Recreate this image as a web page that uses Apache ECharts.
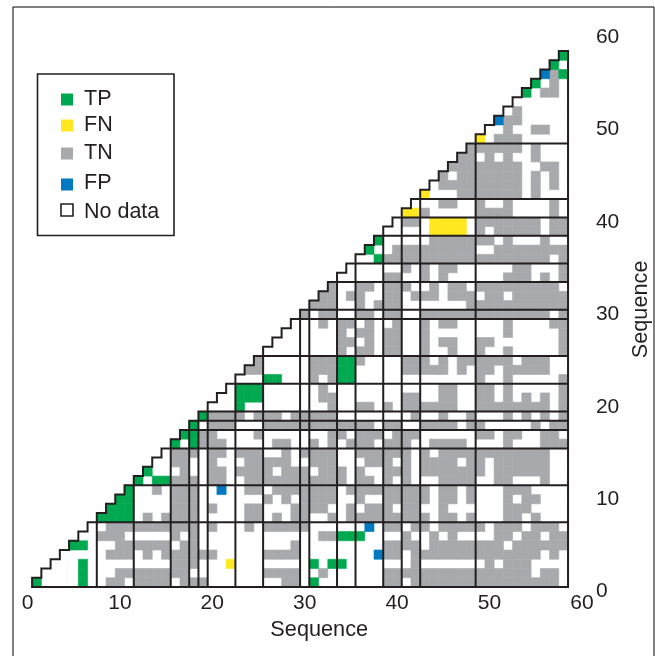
<!DOCTYPE html>
<html><head><meta charset="utf-8">
<style>html,body{margin:0;padding:0;background:#fff}#c{width:655px;height:656px}</style>
<script src="https://cdn.jsdelivr.net/npm/echarts@6/dist/echarts.min.js"></script>
</head><body><div id="c"></div>
<script>
// TN (grey) column spans for each row 1..58, bottom to top
const tnRows = [
"9-10 12-15 17-19 28-29 39-40 42-57",
"10-17 26-29 32 39-54 56-57",
"16-18 42 50 52-54",
"9-11 13 15-20 26-29 39-40 42-55 57",
"10-15 17-18 29 39-42 44-51 53-58",
"8-10 16 18 32-33 41 44 46 51-52 54-55 57-58",
"9-18 20 24 26-30 39-40 42-43 45-49 51-53 55-57",
"13 15-18 24-25 27 29-30 33 35-43 45-46 48 52-53 55",
"16-18 20 24-25 29-32 35 37-39 41-42 45 52-54",
"16-18 26 28 30-33 36 39-43 45-46 48 52 54-55",
"14 16-18 24-25 27-33 35-43 45-46 48 52-54",
"16-18 20-21 24-34 36-37 39 41 45-48 51-52 56",
"17 20-21 23-26 28-30 32-34 36 39-41 43-49 51-56",
"16-17 20 24-28 31-33 37-39 41 43-46 48-49 51-56",
"16-18 20-21 23-25 28 30-33 36-41 43 45-56",
"19-21 27-28 31 33 35-37 39-41 44-47 52 56-58",
"19-20 25 33-34 36-38 40-42 49-50 52-53 56-57",
"20-22 26-37 39-40 43-46 48-49 55 57-58",
"20-23 25-27 29-33 42 45 48 52 54 56 58",
"33 36-37 39 41-46 49-56 58",
"32-33 41-42 45-46 49-50 52 54 56 58",
"32 45-46 49-50 52 58",
"31 33 49 52 58",
"24-25 31-33 41-45 47 49-50 52-56",
"25 31-33 36 41-43 45 47-52 54-56",
"34 36-37 39-40 43 46 49 52 58",
"34-35 37 39-40 43 45-46 49-50 58",
"34 36-37 39-40 43 52 58",
"32 34-35 37 40 43 45-46 52 57-58",
"30 32-33 36-37 39-40 43-56 58",
"31-33 36 38-40 48-58",
"32-33 35-36 39-40 42-44 46-48 50-51 53-58",
"33 36-37 39-41 44 46-47 49-57",
"39-40 43 45 52-54 56 58",
"41 43 45-46 53-54 58",
"39-56 58",
"40-48 51-58",
"44-50 52 56",
"49 51-55 57-58",
"41-42 49-55 57-58",
"43 49-52 57",
"45-46 49 52 57",
"47-53 55",
"45-53 55 57",
"45 47-53 55 57",
"46-53 56-57",
"47-48 50 52 55",
"48-53 55",
"51-53",
"52 55-56",
"52-53",
"53",
"",
"56-57",
"57",
"57",
"",
""
];
// Cells as [column, row]
const tpCells = [[1,1],[6,1],[6,2],[6,3],[31,1],[31,3],[33,3],[34,3],[5,5],[6,5],[34,6],[35,6],[36,6],
[8,8],[9,8],[10,8],[11,8],[9,9],[10,9],[11,9],[10,10],[11,10],[11,11],[12,12],[14,12],[15,12],[13,13],
[16,16],[18,16],[17,17],[18,17],[18,18],[19,19],[23,20],[23,21],[24,21],[25,21],[23,22],[24,22],[25,22],
[26,23],[27,23],[34,23],[35,23],[34,24],[35,24],[34,25],[35,25],[38,36],[37,37],[38,38],
[54,54],[55,55],[58,56],[57,57],[58,58]];
const fnCells = [[22,3],[44,39],[45,39],[46,39],[47,39],[44,40],[45,40],[46,40],[47,40],[41,41],[42,41],[43,43],[49,49]];
const fpCells = [[21,11],[38,4],[37,7],[51,51],[56,56]];
const boundaries = [7.5,11.5,15.5,17.5,18.5,19.5,22.5,25.5,29.5,30.5,33.5,35.5,38.5,40.5,42.5,48.5];
const sequenceLength = 58;
const legendNames = ["TP","FN","TN","FP","No data"];
const colors = {TP:"#00A94F",FN:"#FFE81F",TN:"#A7A9AC",FP:"#0079C1",line:"#231F20"};
const font = "Liberation Sans";

const tnCells = [];
tnRows.forEach((s,i)=>{ s.split(" ").filter(Boolean).forEach(p=>{
  const [a,b] = p.split("-").map(Number);
  for(let c=a;c<=(b||a);c++) tnCells.push([c,i+1]);
});});

function cellSeries(name,data,color){
  return {name,type:"custom",data,silent:true,encode:{x:0,y:1},z:2,
    renderItem(params,api){
      const c=api.value(0), r=api.value(1);
      const p0=api.coord([c-.5,r+.5]), p1=api.coord([c+.5,r-.5]);
      return {type:"rect",shape:{x:p0[0],y:p0[1],width:p1[0]-p0[0],height:p1[1]-p0[1]},style:{fill:color,stroke:color,lineWidth:.6}};
    }};
}
// boundary rows: [value, kind]; kind 0 = vertical, 1 = horizontal
const lineData = [];
boundaries.forEach(b=>{lineData.push([b,0]);lineData.push([b,1]);});
const lineSeries = {type:"custom",data:lineData,silent:true,z:4,clip:false,encode:{x:0},
  renderItem(params,api){
    const b=api.value(0), k=api.value(1);
    const a = k===0?api.coord([b,0.5]):api.coord([b,b]);
    const e = k===0?api.coord([b,b]):api.coord([sequenceLength+.5,b]);
    return {type:"line",shape:{x1:a[0],y1:a[1],x2:e[0],y2:e[1]},style:{stroke:colors.line,lineWidth:2}};
  }};
const stairSeries = {type:"custom",data:[[0,0]],silent:true,z:5,clip:false,encode:{x:0,y:1},
  renderItem(params,api){
    const pts=[[.5,.5]];
    for(let k=1;k<=sequenceLength;k++){pts.push([k-.5,k+.5]);pts.push([k+.5,k+.5]);}
    pts.push([sequenceLength+.5,.5]);
    return {type:"polygon",shape:{points:pts.map(p=>api.coord(p))},style:{fill:"none",stroke:colors.line,lineWidth:2,lineJoin:"miter"}};
  }};

const legendY=[99.5,125.5,153.5,184.5,210];
const legendTextY=[99,125,153,183,212];
const legendFill=[colors.TP,colors.FN,colors.TN,colors.FP,"#fff"];
const graphic=[
 {type:"polyline",z:9,shape:{points:[[13,656],[13,7],[654,7],[654,656]]},style:{fill:"none",stroke:"#000",lineWidth:1}},
 {type:"rect",shape:{x:37.5,y:74,width:136.5,height:161.5},style:{fill:"#fff",stroke:colors.line,lineWidth:1.6},z:10}];
legendNames.forEach((n,i)=>{
  const nd=i===4;
  graphic.push({type:"rect",z:11,shape:{x:61,y:legendY[i]-6,width:12,height:12},style:{fill:legendFill[i],stroke:nd?colors.line:null,lineWidth:nd?1.6:0}});
  graphic.push({type:"text",z:11,x:84,y:legendTextY[i],style:{text:n,fill:colors.line,font:"21.5px '"+font+"'",verticalAlign:"middle"}});
});

const chart=echarts.init(document.getElementById("c"),null,{renderer:"canvas",width:655,height:656});
chart.setOption({
  animation:false,backgroundColor:"#fff",
  grid:{left:27.5,width:554.4,top:37.2,height:554.4,containLabel:false,outerBoundsMode:"none"},
  xAxis:{type:"value",min:0,max:60,interval:10,splitLine:{show:false},axisTick:{show:false},axisLine:{show:false},
    axisLabel:{color:colors.line,fontFamily:font,fontSize:21,margin:1,showMinLabel:true,showMaxLabel:true},
    name:"Sequence",nameLocation:"middle",nameGap:27,nameTextStyle:{color:colors.line,fontFamily:font,fontSize:21.7,padding:[0,0,0,29]}},
  yAxis:{type:"value",min:0,max:60,interval:10,position:"right",splitLine:{show:false},axisTick:{show:false},axisLine:{show:false},
    axisLabel:{color:colors.line,fontFamily:font,fontSize:21,margin:14,align:"left",padding:[0,0,7,0],showMinLabel:true,showMaxLabel:true},
    name:"Sequence",nameLocation:"middle",nameGap:43,nameRotate:90,nameTextStyle:{color:colors.line,fontFamily:font,fontSize:21.7,padding:[0,0,0,10]}},
  graphic:graphic,
  series:[cellSeries("TN",tnCells,colors.TN),cellSeries("TP",tpCells,colors.TP),cellSeries("FN",fnCells,colors.FN),cellSeries("FP",fpCells,colors.FP),lineSeries,stairSeries]
});
</script></body></html>
